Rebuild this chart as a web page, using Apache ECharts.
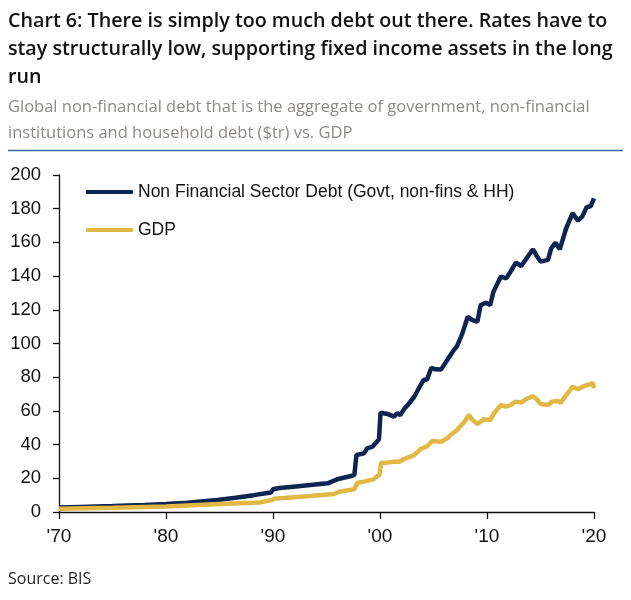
<!DOCTYPE html>
<html>
<head>
<meta charset="utf-8">
<script src="https://cdn.jsdelivr.net/npm/echarts@6/dist/echarts.min.js"></script>
<style>
html,body{margin:0;padding:0;background:#fff;}
#chart{width:631px;height:600px;}
</style>
</head>
<body>
<div id="chart"></div>
<script>
const titleText = "Chart 6: There is simply too much debt out there. Rates have to\nstay structurally low, supporting fixed income assets in the long\nrun";
const subtitleText = "Global non-financial debt that is the aggregate of government, non-financial\ninstitutions and household debt ($tr) vs. GDP";
const sourceText = "Source: BIS";
const seriesNames = ["Non Financial Sector Debt (Govt, non-fins & HH)", "GDP"];
const yTicks = [0, 20, 40, 60, 80, 100, 120, 140, 160, 180, 200];
const xTicks = [1970, 1980, 1990, 2000, 2010, 2020];

const debtSeries = [
  [1970,2.6],[1972,3.0],[1975,3.5],[1978,4.2],[1980,4.7],[1982,5.5],[1984.8,7.1],[1986.5,8.5],
  [1988.2,10],[1989.8,11.6],[1990.0,13.5],[1990.6,14.2],[1991.9,15],[1993.5,16],[1995.1,17],
  [1996.0,19.4],[1997.4,21.5],[1997.6,22],[1997.8,33.8],[1998.5,34.8],[1998.8,37.8],[1999.3,38.8],
  [1999.7,41.7],[1999.9,43],[2000.05,58.9],[2000.7,58.2],[2001.3,56.6],[2001.6,58.6],[2001.9,57.6],
  [2002.3,61.5],[2002.6,63.5],[2003.2,68.4],[2003.8,75.4],[2004.1,78.5],[2004.4,78.7],[2004.8,85.6],
  [2005.2,84.7],[2005.7,84.5],[2006.3,90.4],[2006.9,96.1],[2007.2,98.5],[2007.7,106],[2008.2,115.9],
  [2008.6,114],[2009.1,112.9],[2009.4,122.8],[2009.9,124.2],[2010.3,122.8],[2010.6,130.7],
  [2011.3,139.7],[2011.8,138.7],[2012.2,142.6],[2012.7,148],[2013.2,146],[2013.7,150.6],
  [2014.3,155.9],[2014.6,152.5],[2015.0,148.6],[2015.7,149.6],[2016.0,156.5],[2016.4,159.8],
  [2016.8,155.9],[2017.4,168.4],[2018.0,177.3],[2018.5,172.9],[2018.9,175.3],[2019.3,180.8],
  [2019.7,181.6],[2020.0,186.1]
];

const gdpSeries = [
  [1970,2.0],[1975,2.5],[1980,3.2],[1985,4.7],[1988.8,5.7],[1989.9,7.1],[1990.1,7.8],[1990.7,8.1],
  [1993.5,9.5],[1995.7,10.7],[1996.2,12],[1997.6,13.5],[1997.9,17.4],[1998.5,18],[1999.4,19.4],
  [1999.7,21],[1999.95,22],[2000.1,29.3],[2000.7,29.3],[2001.3,29.9],[2001.8,29.8],[2002.2,31.3],
  [2003.2,33.8],[2003.8,37.5],[2004.4,39],[2004.9,42.2],[2005.7,41.7],[2006.3,43.7],[2006.6,45.7],
  [2007.2,48.7],[2007.9,53.6],[2008.3,57.6],[2008.6,55],[2009.1,52.2],[2009.7,55],[2010.3,54.6],
  [2010.7,58.9],[2011.3,63.5],[2011.8,62.5],[2012.2,63.5],[2012.7,65.5],[2013.2,64.9],[2013.6,66.9],
  [2014.3,68.8],[2014.7,66.5],[2015.0,64.1],[2015.7,63.5],[2016.1,65.5],[2016.6,65.9],[2016.9,64.9],
  [2017.4,69.4],[2018.0,74.4],[2018.5,72.8],[2019.1,74.8],[2019.6,75.8],[2019.9,76.4],[2020.0,73.4]
];

const chart = echarts.init(document.getElementById('chart'), null, {renderer: 'canvas'});
const axisFont = "'Liberation Sans Narrow', 'Liberation Sans', Arial, sans-serif";
chart.setOption({
  animation: false,
  backgroundColor: '#ffffff',
  title: [
    {text: titleText, left: 8, top: 7, padding: 0,
     textStyle: {fontFamily: "'Open Sans', sans-serif", fontWeight: 600, fontSize: 19.7, lineHeight: 28, color: '#111'}},
    {text: subtitleText, left: 8, top: 94, padding: 0,
     textStyle: {fontFamily: "'Open Sans', sans-serif", fontWeight: 'normal', fontSize: 16.5, lineHeight: 26, color: '#8d8a87'}},
    {text: sourceText, left: 8, top: 571, padding: 0,
     textStyle: {fontFamily: "'Open Sans', sans-serif", fontWeight: 'normal', fontSize: 16, color: '#222'}}
  ],
  graphic: [
    {type: 'line', shape: {x1: 8, y1: 150.5, x2: 623, y2: 150.5}, style: {stroke: '#3a6699', lineWidth: 1.5}}
  ],
  legend: {
    orient: 'vertical', left: 86, top: 182, itemWidth: 47, itemHeight: 4, itemGap: 18, padding: 0,
    icon: 'roundRect',
    textStyle: {fontFamily: axisFont, fontSize: 17.5, color: '#111', lineHeight: 20, padding: [0,0,0,0]},
    data: seriesNames
  },
  grid: {left: 59, right: 37, top: 175, bottom: 88, containLabel: false},
  xAxis: {
    type: 'value', min: xTicks[0], max: xTicks[xTicks.length-1], interval: 10,
    axisLine: {lineStyle: {color: '#111', width: 1.3}},
    axisTick: {show: true, length: 7, lineStyle: {color: '#111', width: 1.3}},
    splitLine: {show: false},
    axisLabel: {fontFamily: axisFont, fontSize: 19, color: '#111', margin: 15,
      formatter: v => "'" + String(v).slice(2)}
  },
  yAxis: {
    type: 'value', min: yTicks[0], max: yTicks[yTicks.length-1], interval: 20,
    axisLine: {show: true, lineStyle: {color: '#111', width: 1.3}},
    axisTick: {show: true, length: 6, lineStyle: {color: '#111', width: 1.3}},
    splitLine: {show: false},
    axisLabel: {fontFamily: axisFont, fontSize: 18.5, color: '#111', margin: 18}
  },
  series: [
    {name: seriesNames[0], type: 'line', data: debtSeries, showSymbol: false, symbol: 'none',
     lineStyle: {color: '#0d2550', width: 4.5}, itemStyle: {color: '#0d2550'}},
    {name: seriesNames[1], type: 'line', data: gdpSeries, showSymbol: false, symbol: 'none',
     lineStyle: {color: '#e1b844', width: 4.5}, itemStyle: {color: '#e1b844'}}
  ]
});
</script>
</body>
</html>
